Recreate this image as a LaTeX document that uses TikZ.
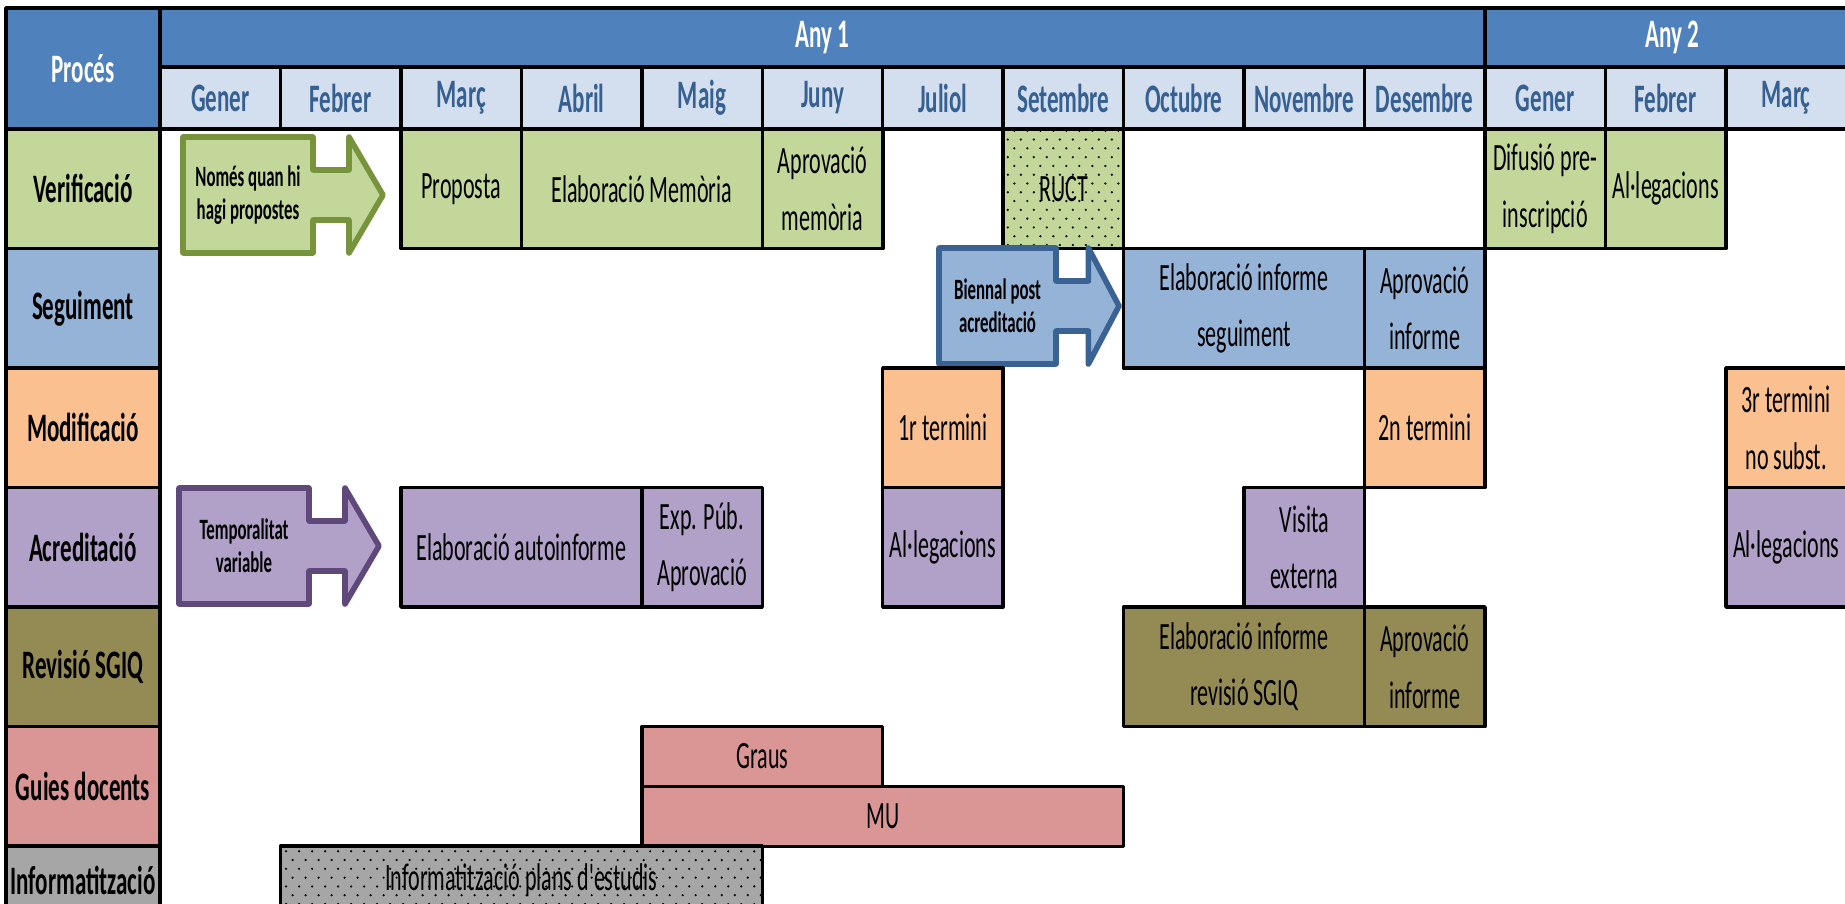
\documentclass[tikz,border=0pt]{standalone}
\usepackage{fontspec}
\newfontfamily\narrowfont[FakeStretch=0.57]{Carlito}
\usepackage{tikz}
\usetikzlibrary{patterns}
\definecolor{headblue}{HTML}{4F81BD}
\definecolor{monthbg}{HTML}{D3DFEE}
\definecolor{monthtxt}{HTML}{366092}
\definecolor{verifcol}{HTML}{C4D79B}
\definecolor{verifline}{HTML}{77933C}
\definecolor{segcol}{HTML}{95B3D7}
\definecolor{segline}{HTML}{3A6393}
\definecolor{modcol}{HTML}{FAC090}
\definecolor{acrcol}{HTML}{B1A0C7}
\definecolor{acrline}{HTML}{5F497A}
\definecolor{revcol}{HTML}{948A54}
\definecolor{guiacol}{HTML}{DA9694}
\definecolor{infocol}{HTML}{A6A6A6}
\pgfdeclarepatternformonly{finedots}{\pgfqpoint{-0.5pt}{-0.5pt}}{\pgfqpoint{2.4pt}{3.0pt}}{\pgfqpoint{3.7pt}{5pt}}{
    \pgfpathcircle{\pgfpointorigin}{0.35pt}
    \pgfpathcircle{\pgfqpoint{1.85pt}{2.5pt}}{0.35pt}
    \pgfusepath{fill}
}
\tikzset{
    cell/.style = {draw=black, line width=1pt, anchor=north west, inner sep=0pt, outer sep=0pt,
        align=center, font=\narrowfont\fontsize{11}{16}\selectfont},
    headcell/.style = {cell, font=\narrowfont\bfseries\fontsize{11.5}{16}\selectfont},
    callarrow/.pic = {
    \filldraw[line width=1.6pt, line join=round] (0,0) -- (1.30,0) -- (1.30,0.33) -- (1.66,0.33)
        -- (1.66,0) -- (2.0,0.58) -- (1.66,1.16) -- (1.66,0.83) -- (1.30,0.83) -- (1.30,1.16)
        -- (0,1.16) -- cycle;
    \node[font=\narrowfont\bfseries\fontsize{8.4}{9.5}\selectfont, align=center] (-txt) at (0.65,0.58) {#1};
    }
}

\begin{document}
\begin{tikzpicture}[line cap=round,line join=round,x=1.0cm,y=-1.0cm]
    \useasboundingbox (0,0) rectangle (18.45,9.04);
    \clip (0,0) rectangle (18.45,9.04);

    % capcalera
    \node[headcell, fill=headblue, text=white, minimum width=1.54cm, minimum height=1.21cm] (proces) at (0.06,0.08) {Procés};
    \node[headcell, fill=headblue, text=white, minimum width=13.25cm, minimum height=0.59cm] (any1) at (1.60,0.08) {Any 1};
    \node[headcell, fill=headblue, text=white, minimum width=3.75cm, minimum height=0.59cm] (any2) at (14.85,0.08) {Any 2};
    \foreach \mes [count=\i from 0] in {Gener,Febrer,Març,Abril,Maig,Juny,Juliol,Setembre,Octubre,Novembre,Desembre,Gener,Febrer,Març}
        \node[headcell, fill=monthbg, text=monthtxt, minimum width=1.2045cm, minimum height=0.62cm] (mes\i) at (1.60+1.2045*\i,0.67) {\mes};

    % processos
    \foreach \proc/\col/\y [count=\i] in {Verificació/verifcol/1.29, Seguiment/segcol/2.485, Modificació/modcol/3.68,
        Acreditació/acrcol/4.875, Revisió SGIQ/revcol/6.07, Guies docents/guiacol/7.265}
        \node[headcell, fill=\col, minimum width=1.54cm, minimum height=1.195cm] (proc\i) at (0.06,\y) {\proc};
    \node[headcell, fill=infocol, minimum width=1.54cm, minimum height=0.68cm] (proc7) at (0.06,8.46) {Informatització};

    % verificacio
    \path (1.83,1.37) pic[draw=verifline, fill=verifcol] (verifarrow) {callarrow={Només quan hi\\hagi propostes}};
    \node[cell, fill=verifcol, minimum width=1.2045cm, minimum height=1.195cm] (proposta) at (4.009,1.29) {Proposta};
    \node[cell, fill=verifcol, minimum width=2.409cm, minimum height=1.195cm] (memoria) at (5.214,1.29) {Elaboració Memòria};
    \node[cell, fill=verifcol, minimum width=1.2045cm, minimum height=1.195cm] (aprovmem) at (7.623,1.29) {Aprovació\\memòria};
    \node[cell, preaction={fill=verifcol}, pattern=finedots, minimum width=1.2045cm, minimum height=1.195cm] (ruct) at (10.032,1.29) {RUCT};
    \node[cell, fill=verifcol, minimum width=1.2045cm, minimum height=1.195cm] (difusio) at (14.850,1.29) {Difusió pre-\\inscripció};
    \node[cell, fill=verifcol, minimum width=1.2045cm, minimum height=1.195cm] (allegver) at (16.054,1.29) {Al·legacions};

    % seguiment
    \path (9.39,2.48) pic[draw=segline, fill=segcol, xscale=0.9] (segarrow) {callarrow={Biennal post\\acreditació}};
    \node[cell, fill=segcol, minimum width=2.409cm, minimum height=1.195cm] (elabseg) at (11.236,2.485) {Elaboració informe\\seguiment};
    \node[cell, fill=segcol, minimum width=1.2045cm, minimum height=1.195cm] (aprovseg) at (13.645,2.485) {Aprovació\\informe};

    % modificacio
    \node[cell, fill=modcol, minimum width=1.2045cm, minimum height=1.195cm] (termini1) at (8.827,3.68) {1r termini};
    \node[cell, fill=modcol, minimum width=1.2045cm, minimum height=1.195cm] (termini2) at (13.645,3.68) {2n termini};
    \node[cell, fill=modcol, minimum width=1.2045cm, minimum height=1.195cm] (termini3) at (17.259,3.68) {3r termini\\no subst.};

    % acreditacio
    \path (1.79,4.88) pic[draw=acrline, fill=acrcol] (acrarrow) {callarrow={Temporalitat\\variable}};
    \node[cell, fill=acrcol, minimum width=2.409cm, minimum height=1.195cm] (autoinf) at (4.009,4.875) {Elaboració autoinforme};
    \node[cell, fill=acrcol, minimum width=1.2045cm, minimum height=1.195cm] (exppub) at (6.418,4.875) {Exp. Púb.\\Aprovació};
    \node[cell, fill=acrcol, minimum width=1.2045cm, minimum height=1.195cm] (allegacr) at (8.827,4.875) {Al·legacions};
    \node[cell, fill=acrcol, minimum width=1.2045cm, minimum height=1.195cm] (visita) at (12.441,4.875) {Visita\\externa};
    \node[cell, fill=acrcol, minimum width=1.2045cm, minimum height=1.195cm] (allegacr2) at (17.259,4.875) {Al·legacions};

    % revisio SGIQ
    \node[cell, fill=revcol, minimum width=2.409cm, minimum height=1.195cm] (elabrev) at (11.236,6.07) {Elaboració informe\\revisió SGIQ};
    \node[cell, fill=revcol, minimum width=1.2045cm, minimum height=1.195cm] (aprovrev) at (13.645,6.07) {Aprovació\\informe};

    % guies docents
    \node[cell, fill=guiacol, minimum width=2.409cm, minimum height=0.60cm] (graus) at (6.418,7.265) {Graus};
    \node[cell, fill=guiacol, minimum width=4.818cm, minimum height=0.60cm] (mu) at (6.418,7.865) {MU};

    % informatitzacio
    \node[cell, preaction={fill=infocol}, pattern=finedots, minimum width=4.818cm, minimum height=0.68cm] (plans) at (2.805,8.46) {Informatització plans d'estudis};
\end{tikzpicture}
\end{document}
